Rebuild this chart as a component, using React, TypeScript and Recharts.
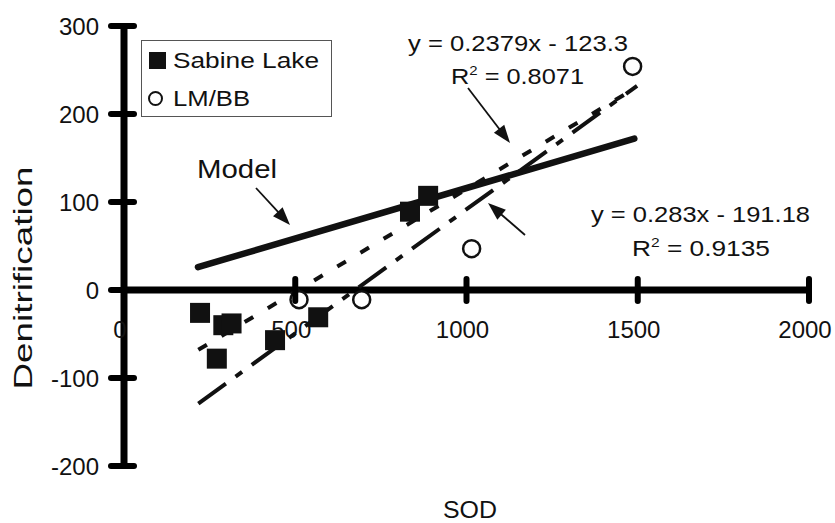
import React from 'react';
import { ScatterChart, Scatter, XAxis, YAxis, ReferenceLine, Legend } from 'recharts';

const FONT = '"Liberation Sans", Arial, Helvetica, sans-serif';

// ---- data ----
const xTicks = [0, 500, 1000, 1500, 2000];
const yTicks = [-200, -100, 0, 100, 200, 300];

const seriesNames = ['Sabine Lake', 'LM/BB'];

const sabineX = [222, 290, 314, 271, 441, 567, 835, 888];
const sabineY = [-26, -40, -38, -78, -57, -31, 89, 107];

const lmbbX = [511, 694, 1015, 1485];
const lmbbY = [-11, -11, 47, 254];

const modelX = [216, 1490];
const modelY = [26, 172];

const sabineTrendX = [217, 1495];
const sabineTrendY = [-68, 230];

const lmbbTrendX = [217, 1498];
const lmbbTrendY = [-129, 232];

const annotations = {
  model: 'Model',
  sabineEq: 'y = 0.2379x - 123.3',
  sabineR2: ' = 0.8071',
  lmbbEq: 'y = 0.283x - 191.18',
  lmbbR2: ' = 0.9135',
  xTitle: 'SOD',
  yTitle: 'Denitrification',
};

const zip = (xs: number[], ys: number[]) => xs.map((x, i) => ({ x, y: ys[i] }));

const sabineData = zip(sabineX, sabineY);
const lmbbData = zip(lmbbX, lmbbY);
const modelData = zip(modelX, modelY);
const sabineTrend = zip(sabineTrendX, sabineTrendY);
const lmbbTrend = zip(lmbbTrendX, lmbbTrendY);

// ---- layout ----
const W = 835;
const H = 523;
const PL = 124;
const PT = 26;
const PR = 26;
const XAXIS_H = 57;
const PH = H - PT - XAXIS_H;
const Y_MIN = -200;
const Y_MAX = 300;
const ZERO_Y = PT + (PH * Y_MAX) / (Y_MAX - Y_MIN);

const XTick = (props: any) => {
  const { x, payload } = props;
  return (
    <g>
      <line x1={x} x2={x} y1={ZERO_Y - 11} y2={ZERO_Y + 11} stroke="#000" strokeWidth={6} strokeLinecap="round" />
      <text x={x - 4} y={ZERO_Y + 48} textAnchor="middle" fontSize={24} fontFamily={FONT} fill="#111">
        {payload.value}
      </text>
    </g>
  );
};

const YTick = (props: any) => {
  const { y, payload } = props;
  return (
    <g>
      <line x1={PL - 13} x2={PL + 10} y1={y} y2={y} stroke="#000" strokeWidth={6} strokeLinecap="round" />
      <text x={99} y={y + 9} textAnchor="end" fontSize={24} fontFamily={FONT} fill="#111">
        {payload.value}
      </text>
    </g>
  );
};

const SquareShape = (props: any) => {
  const { cx, cy } = props;
  if (cx == null || cy == null) return <g />;
  return <rect x={cx - 10} y={cy - 10} width={20} height={20} fill="#111" />;
};

const CircleShape = (props: any) => {
  const { cx, cy } = props;
  if (cx == null || cy == null) return <g />;
  return <circle cx={cx} cy={cy} r={8.5} fill="#fff" stroke="#111" strokeWidth={2.5} />;
};

const NoShape = () => <g />;

const XTitle = () => (
  <text x={470} y={518} textAnchor="middle" fontSize={23} fontFamily={FONT} fill="#111" textLength={54} lengthAdjust="spacingAndGlyphs">
    {annotations.xTitle}
  </text>
);

const YTitle = () => (
  <text
    x={31.5}
    y={278}
    transform="rotate(-90 31.5 278)"
    textAnchor="middle"
    fontSize={25}
    fontFamily={FONT}
    fill="#111"
    textLength={223}
    lengthAdjust="spacingAndGlyphs"
  >
    {annotations.yTitle}
  </text>
);

const renderLegend = () => (
  <svg width={191} height={77} style={{ display: 'block' }}>
    <rect x={0.5} y={0.5} width={190} height={76} fill="#fff" stroke="#555" strokeWidth={1} />
    <rect x={8} y={12} width={17} height={17} fill="#111" />
    <text x={32} y={27.5} fontSize={22} fontFamily={FONT} fill="#111" textLength={146} lengthAdjust="spacingAndGlyphs">
      {seriesNames[0]}
    </text>
    <circle cx={14.5} cy={58.5} r={6.5} fill="#fff" stroke="#111" strokeWidth={2} />
    <text x={32} y={66} fontSize={22} fontFamily={FONT} fill="#111" textLength={77} lengthAdjust="spacingAndGlyphs">
      {seriesNames[1]}
    </text>
  </svg>
);

const Arrow = ({ x1, y1, x2, y2 }: { x1: number; y1: number; x2: number; y2: number }) => {
  const dx = x2 - x1;
  const dy = y2 - y1;
  const len = Math.hypot(dx, dy);
  const ux = dx / len;
  const uy = dy / len;
  const hl = 18;
  const hw = 6.5;
  const bx = x2 - ux * hl;
  const by = y2 - uy * hl;
  const pts = `${x2},${y2} ${bx - uy * hw},${by + ux * hw} ${bx + uy * hw},${by - ux * hw}`;
  return (
    <g>
      <line x1={x1} y1={y1} x2={bx + ux * 2} y2={by + uy * 2} stroke="#111" strokeWidth={1.8} />
      <polygon points={pts} fill="#111" />
    </g>
  );
};

export default function App() {
  return (
    <div style={{ position: 'absolute', left: 0, top: 0, width: W, height: H, background: '#fff' }}>
      <ScatterChart width={W} height={H} margin={{ top: PT, right: PR, bottom: 0, left: 0 }}>
        <XAxis
          type="number"
          dataKey="x"
          domain={[0, 2000]}
          ticks={xTicks}
          interval={0}
          axisLine={false}
          tickLine={false}
          tick={<XTick />}
          height={XAXIS_H}
          label={<XTitle />}
          allowDataOverflow
        />
        <YAxis
          type="number"
          dataKey="y"
          domain={[Y_MIN, Y_MAX]}
          ticks={yTicks}
          interval={0}
          width={PL}
          axisLine={{ stroke: '#000', strokeWidth: 7 }}
          tickLine={false}
          tick={<YTick />}
          label={<YTitle />}
          allowDataOverflow
        />
        <ReferenceLine y={0} stroke="#000" strokeWidth={7} ifOverflow="visible" />
        <Legend
          layout="vertical"
          align="center"
          verticalAlign="middle"
          content={renderLegend}
          wrapperStyle={{ position: 'absolute', left: 141, top: 40, width: 191, height: 77, margin: 0, padding: 0 }}
        />
        <Scatter
          name="Model"
          data={modelData}
          line={{ stroke: '#111', strokeWidth: 6.5, strokeLinecap: 'round' }}
          lineType="joint"
          shape={NoShape}
          legendType="none"
          isAnimationActive={false}
        />
        <Scatter
          name="Sabine trend"
          data={sabineTrend}
          line={{ stroke: '#111', strokeWidth: 4, strokeDasharray: '10 17' }}
          lineType="joint"
          shape={NoShape}
          legendType="none"
          isAnimationActive={false}
        />
        <Scatter
          name="LM/BB trend"
          data={lmbbTrend}
          line={{ stroke: '#111', strokeWidth: 4, strokeDasharray: '34 12 8 12' }}
          lineType="joint"
          shape={NoShape}
          legendType="none"
          isAnimationActive={false}
        />
        <Scatter name={seriesNames[0]} data={sabineData} shape={SquareShape} isAnimationActive={false} />
        <Scatter name={seriesNames[1]} data={lmbbData} shape={CircleShape} isAnimationActive={false} />
      </ScatterChart>
      <svg
        width={W}
        height={H}
        style={{ position: 'absolute', left: 0, top: 0, pointerEvents: 'none' }}
        fontFamily={FONT}
        fill="#111"
      >
        <text x={197} y={178} fontSize={26} textLength={80} lengthAdjust="spacingAndGlyphs">
          {annotations.model}
        </text>
        <Arrow x1={256} y1={188} x2={290} y2={225} />

        <text x={408} y={51} fontSize={22} textLength={220} lengthAdjust="spacingAndGlyphs">
          {annotations.sabineEq}
        </text>
        <text x={451} y={84} fontSize={22} textLength={133} lengthAdjust="spacingAndGlyphs">
          R<tspan fontSize={13} dy={-9}>2</tspan>
          <tspan dy={9}>{annotations.sabineR2}</tspan>
        </text>
        <Arrow x1={468} y1={88} x2={510} y2={143} />

        <text x={591} y={222} fontSize={22} textLength={219} lengthAdjust="spacingAndGlyphs">
          {annotations.lmbbEq}
        </text>
        <text x={632} y={256} fontSize={22} textLength={138} lengthAdjust="spacingAndGlyphs">
          R<tspan fontSize={13} dy={-9}>2</tspan>
          <tspan dy={9}>{annotations.lmbbR2}</tspan>
        </text>
        <Arrow x1={525} y1={235} x2={488} y2={203} />
      </svg>
    </div>
  );
}
